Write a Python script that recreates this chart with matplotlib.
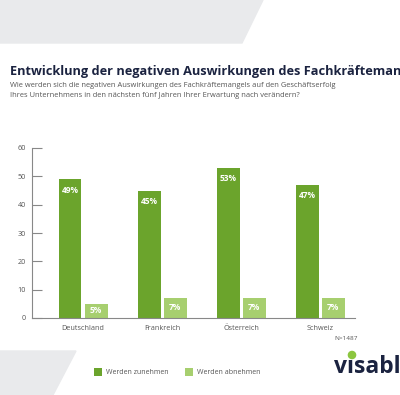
import matplotlib.pyplot as plt
from matplotlib.patches import Polygon, Circle
import numpy as np

countries = ['Deutschland', 'Frankreich', 'Österreich', 'Schweiz']
zunehmen = [49, 45, 53, 47]
abnehmen = [5, 7, 7, 7]
yticks = [0, 10, 20, 30, 40, 50, 60]

title = 'Entwicklung der negativen Auswirkungen des Fachkräftemangels'
subtitle = ('Wie werden sich die negativen Auswirkungen des Fachkräftemangels auf den Geschäftserfolg\n'
            'Ihres Unternehmens in den nächsten fünf Jahren Ihrer Erwartung nach verändern?')
note = 'N=1487'

dark_green = '#6ba42c'
light_green = '#a7cf6f'
navy = '#1b2340'
grey_bg = '#e9eaec'
tick_grey = '#555555'

plt.rcParams['font.family'] = ['Open Sans', 'DejaVu Sans']

W, H = 400, 395
fig = plt.figure(figsize=(W / 100, H / 100), dpi=100)


def px(x, y):
    return (x / W, 1 - y / H)


# grey decoration shapes
fig.patches.append(Polygon([px(0, 0), px(263, 0), px(242, 43), px(0, 43)],
                           closed=True, transform=fig.transFigure, color=grey_bg, zorder=0))
fig.patches.append(Polygon([px(0, 351), px(76, 351), px(53, 395), px(0, 395)],
                           closed=True, transform=fig.transFigure, color=grey_bg, zorder=0))

fig.text(10 / W, 1 - 71 / H, title, fontsize=9.15, fontweight='bold', color=navy, va='center')
fig.text(10 / W, 1 - 90.5 / H, subtitle, fontsize=5.4, color='#555555', va='center', linespacing=1.75)

ax = fig.add_axes([32 / W, 1 - 318 / H, (355 - 32) / W, (318 - 148) / H])
x = np.arange(len(countries))
w = 0.29
off = 0.165
b1 = ax.bar(x - off, zunehmen, w, color=dark_green, label='Werden zunehmen')
b2 = ax.bar(x + off, abnehmen, w, color=light_green, label='Werden abnehmen')

for xi, v in zip(x, zunehmen):
    ax.annotate(f'{v}%', (xi - off, v), xytext=(0, -8), textcoords='offset points',
                ha='center', va='center', color='white', fontsize=6, fontweight='bold')
for xi, v in zip(x, abnehmen):
    ax.text(xi + off, v / 2 + 0.3, f'{v}%', ha='center', va='center',
            color='white', fontsize=6, fontweight='bold')

ax.set_xlim(-0.646, 3.44)
ax.set_ylim(0, 60)
ax.set_yticks(yticks)
ax.set_xticks(x)
ax.set_xticklabels(countries)
ax.tick_params(axis='y', direction='in', length=7, width=0.8, color='#888888',
               labelsize=5.2, labelcolor=tick_grey, pad=4.5)
ax.tick_params(axis='x', length=0, labelsize=5.2, labelcolor=tick_grey, pad=5)
for s in ['top', 'right']:
    ax.spines[s].set_visible(False)
ax.spines['left'].set_color('#888888')
ax.spines['bottom'].set_color('#888888')
ax.spines['left'].set_linewidth(0.8)
ax.spines['bottom'].set_linewidth(0.8)

fig.text(358 / W, 1 - 339 / H, note, fontsize=4.6, color=tick_grey, ha='right', va='center')

fig.legend(handles=[b1, b2], loc='center left', bbox_to_anchor=(88 / W, 1 - 372 / H),
           ncol=2, frameon=False, fontsize=5.0, handlelength=1.1, handleheight=1.6,
           columnspacing=2.4, handletextpad=0.6, labelcolor=tick_grey)

# logo
fig.text(334 / W, 1 - 367 / H, 'visable', fontsize=16.5, fontweight='bold', color=navy,
         va='center', ha='left')
fig.patches.append(Circle(px(352, 355), 3.6 / W, transform=fig.transFigure,
                          color='#8cc63f', zorder=5))

fig.savefig('out.png', dpi=100)
